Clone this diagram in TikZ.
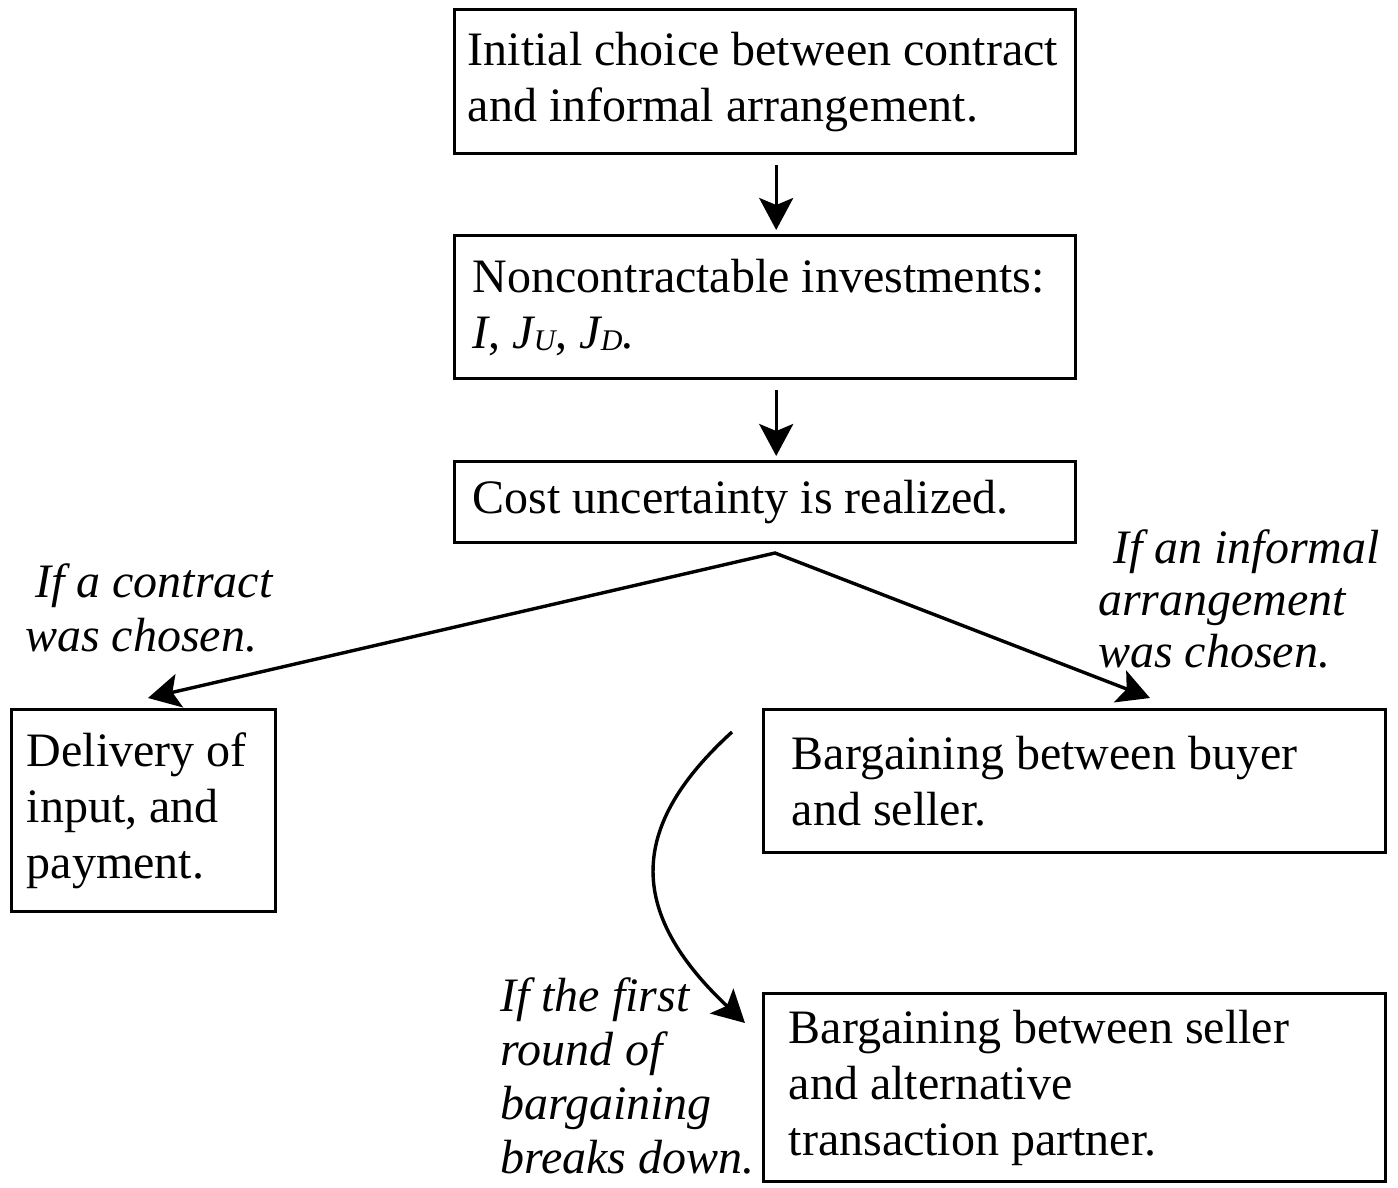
\documentclass[tikz,border=0pt]{standalone}
\usepackage{fontspec}
\setmainfont{Liberation Serif}
\usetikzlibrary{arrows.meta}
\newcommand{\subidx}[1]{\raisebox{-2pt}{\fontsize{30}{30}\selectfont #1}}

\begin{document}
\begin{tikzpicture}[x=1pt,y=-1pt,
		>={Stealth[length=32pt,width=34pt,inset=7pt]},
		stage/.style={draw, line width=3.4pt, anchor=north west, align=flush left, inner ysep=0pt,
			font=\fontsize{48}{56}\selectfont},
		cond/.style={anchor=base west, align=flush left, inner sep=0pt,
			font=\itshape\fontsize{48}{54}\selectfont},
		arr/.style={line width=3.4pt, ->}]
		\useasboundingbox (0,0) rectangle (1398,1188);
		% stages of the game
		\node [stage, inner xsep=13pt, text width=595pt, minimum height=144pt] (init) at (453,8)
			{Initial choice between contract\\and informal arrangement.};
		\node [stage, inner xsep=18pt, text width=585pt, minimum height=143pt] (invest) at (453,234)
			{Noncontractable investments:\\\textit{I}, \textit{J\subidx{U}}, \textit{J\subidx{D}.}};
		\node [stage, inner xsep=18pt, text width=585pt, minimum height=81pt] (cost) at (453,460)
			{Cost uncertainty is realized.};
		\node [stage, inner xsep=15pt, text width=234pt, minimum height=202pt] (deliv) at (10,708)
			{Delivery of\\input, and\\payment.};
		\node [stage, inner xsep=28pt, text width=566pt, minimum height=143pt] (bargain) at (762,708)
			{Bargaining between buyer\\and seller.};
		\node [stage, inner xsep=25pt, text width=572pt, minimum height=188pt] (alt) at (762,992)
			{Bargaining between seller\\and alternative\\transaction partner.};
		% conditions (anchored at the last line)
		\node [cond] (ifcontract) at (25,651) {\hspace*{10pt}If a contract\\was chosen.};
		\node [cond, font=\itshape\fontsize{48}{52}\selectfont] (ifinformal) at (1098,667)
			{\hspace*{15pt}If an informal\\arrangement\\was chosen.};
		\node [cond] (ifbreak) at (500,1173) {If the first\\round of\\bargaining\\breaks down.};
		% connectors
		\coordinate (fork) at (775,553);
		\coordinate (ltip) at (148,698);
		\coordinate (rtip) at (1150,698);
		\coordinate (cstart) at (732,732);
		\coordinate (ctip) at (745,1023);
		\draw [arr, shorten <=10pt, shorten >=4pt] ([xshift=11pt]init.south) -- ([xshift=11pt]invest.north);
		\draw [arr, shorten <=10pt, shorten >=4pt] ([xshift=11pt]invest.south) -- ([xshift=11pt]cost.north);
		\draw [arr, <->] (ltip) -- (fork) -- (rtip);
		\draw [arr] (cstart) .. controls (630,825) and (625,910) .. (ctip);
	\end{tikzpicture}
\end{document}
